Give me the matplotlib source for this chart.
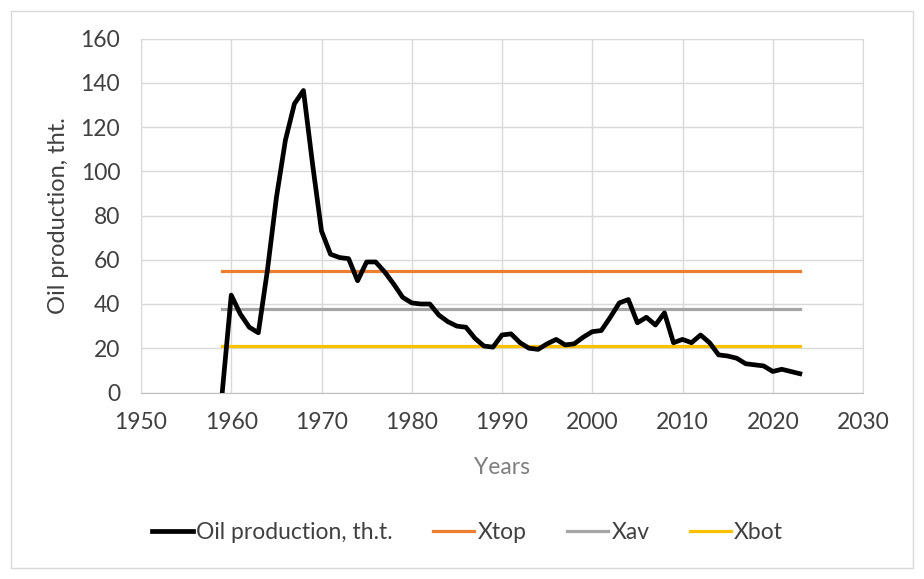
"""
plot.py - oil production chart with Xtop / Xav / Xbot levels
"""

import numpy as np
import matplotlib.pyplot as plt
from matplotlib.patches import Rectangle

# data
years = list(range(1959, 2024))
oil = [0, 44, 35.5, 29.5, 27, 55, 88, 114, 130.5, 136.5, 103.5,
       73, 62.5, 61, 60.5, 50.5, 59, 59, 54.5, 49, 43,
       40.5, 40, 40, 35, 32, 30, 29.5, 24.5, 21, 20.5,
       26, 26.5, 22.5, 20, 19.5, 22, 24, 21.5, 22, 25,
       27.5, 28, 34, 40.5, 42, 31.5, 34, 30.5, 36, 22.5,
       24, 22.5, 26, 22.5, 17, 16.5, 15.5, 13, 12.5, 12,
       9.5, 10.5, 9.5, 8.5]
x_top = 55
x_av = 37.8
x_bot = 20.8

x_ticks = [1950, 1960, 1970, 1980, 1990, 2000, 2010, 2020, 2030]
y_ticks = [0, 20, 40, 60, 80, 100, 120, 140, 160]

plt.rcParams['font.family'] = ['Lato', 'DejaVu Sans']
fs = 16.5

fig = plt.figure(figsize=(9.24, 5.79), dpi=100)
ax = fig.add_axes([141 / 924, 1 - 392.5 / 579, (863 - 141) / 924, (392.5 - 38.5) / 579])

# outer chart border (Excel chart area)
fig.patches.append(Rectangle((11 / 924, 1 - 568 / 579), 902 / 924, 557 / 579,
                             transform=fig.transFigure, fill=False,
                             edgecolor='#d9d9d9', linewidth=1.0))

ax.plot(years, oil, color='black', linewidth=3.4, solid_joinstyle='round',
        label='Oil production, th.t.', zorder=4)
ax.plot([years[0], years[-1]], [x_top, x_top], color='#ed7d31', linewidth=2.3, label='Xtop', zorder=3)
ax.plot([years[0], years[-1]], [x_av, x_av], color='#a5a5a5', linewidth=2.3, label='Xav', zorder=3)
ax.plot([years[0], years[-1]], [x_bot, x_bot], color='#ffc000', linewidth=2.3, label='Xbot', zorder=3)

ax.set_xlim(1950, 2030)
ax.set_ylim(0, 160)
ax.set_xticks(x_ticks)
ax.set_yticks(y_ticks)
ax.grid(True, color='#d9d9d9', linewidth=1.0)
ax.set_axisbelow(True)
for side in ['top', 'right', 'left']:
    ax.spines[side].set_color('#d9d9d9')
ax.spines['bottom'].set_color('#bfbfbf')
ax.tick_params(length=0, labelsize=fs, colors='#404040')
ax.tick_params(axis='y', pad=15)
ax.tick_params(axis='x', pad=14)

ax.set_ylabel('Oil production, tht.', fontsize=fs + 0.5, color='#404040', labelpad=8)
ax.set_xlabel('Years', fontsize=fs, color='#7f7f7f', labelpad=17)

ax.legend(loc='center', bbox_to_anchor=(0.452, -0.396), ncol=4, frameon=False,
          fontsize=fs, labelcolor='#404040', handlelength=1.8, handletextpad=0.15,
          columnspacing=1.75)

fig.savefig('out.png', dpi=100)
